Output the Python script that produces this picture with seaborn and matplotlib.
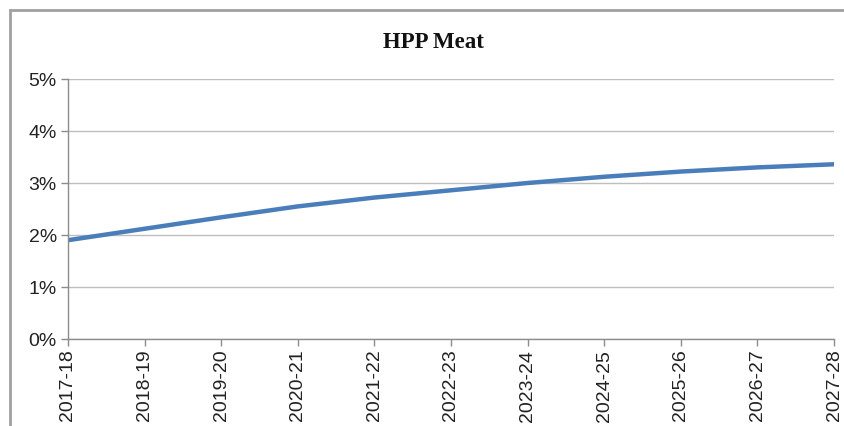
import numpy as np
import pandas as pd
import matplotlib
matplotlib.use("Agg")
import matplotlib.pyplot as plt
import seaborn as sns
from matplotlib.patches import Rectangle
from matplotlib.ticker import PercentFormatter

# values (percent)
years = ["2017-18", "2018-19", "2019-20", "2020-21", "2021-22", "2022-23",
         "2023-24", "2024-25", "2025-26", "2026-27", "2027-28"]
share = [1.90, 2.12, 2.34, 2.55, 2.72, 2.86, 3.00, 3.12, 3.22, 3.30, 3.36]
y_ticks = [0, 1, 2, 3, 4, 5]

df = pd.DataFrame({"year": years, "share": share})

sns.set_style("white")
plt.rcParams["font.family"] = ["Liberation Sans", "DejaVu Sans"]

fig = plt.figure(figsize=(8.45, 4.27), dpi=100)
ax = fig.add_axes([68 / 845, 87 / 427, (834 - 68) / 845, 260 / 427])

sns.lineplot(data=df, x="year", y="share", ax=ax, color="#4A7EBB",
             linewidth=3.2, sort=False)

ax.set_xlim(0, len(years) - 1)
ax.set_ylim(0, 5)
ax.set_yticks(y_ticks)
ax.yaxis.set_major_formatter(PercentFormatter(decimals=0))
ax.set_xlabel("")
ax.set_ylabel("")
ax.grid(axis="y", color="#BEBEBE", linewidth=1)
ax.grid(axis="x", visible=False)
for side in ["top", "right"]:
    ax.spines[side].set_visible(False)
for side in ["left", "bottom"]:
    ax.spines[side].set_color("#8C8C8C")
    ax.spines[side].set_linewidth(1)
ax.tick_params(axis="both", which="major", length=5, width=1, color="#8C8C8C",
               labelsize=14, labelcolor="#222222", direction="out",
               left=True, bottom=True)
ax.tick_params(axis="x", labelrotation=90, pad=2)
ax.tick_params(axis="y", pad=3)

fig.text(433 / 845, 1 - 42 / 427, "HPP Meat", ha="center", va="center",
         fontsize=16.5, fontweight="bold", family=["Liberation Serif", "DejaVu Serif"],
         color="#111111")

# outer chart border (only the left and top edges are visible in the crop)
fig.patches.append(Rectangle((10 / 845, -0.1), 1.2, 1 - 11 / 427 + 0.1,
                             transform=fig.transFigure, fill=False,
                             edgecolor="#A0A0A0", linewidth=2))

fig.savefig("out.png", dpi=100)
